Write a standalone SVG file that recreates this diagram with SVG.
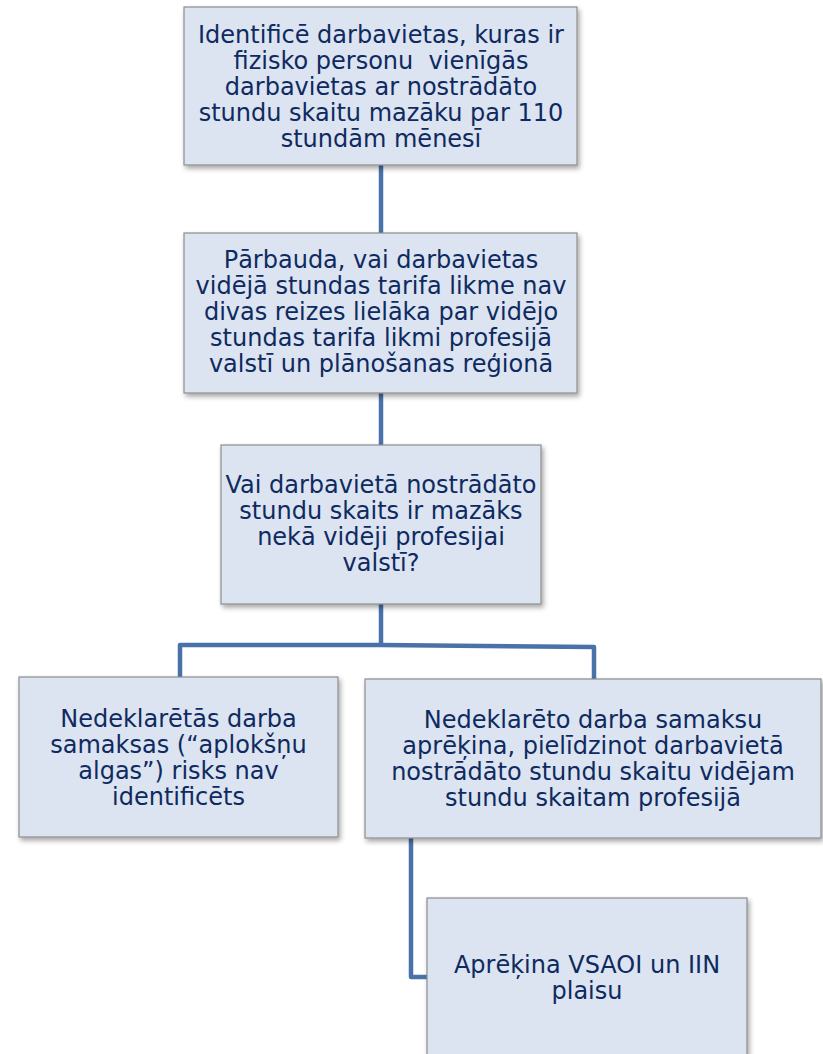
<svg xmlns="http://www.w3.org/2000/svg" width="823" height="1054" viewBox="0 0 823 1054">
<defs>
<filter id="sh" x="-5%" y="-5%" width="115%" height="120%">
<feDropShadow dx="2" dy="3" stdDeviation="2.5" flood-color="#000" flood-opacity="0.35"/>
</filter>
<style>
.box{fill:#dbe4f0;stroke:#8c8c8c;stroke-width:1.2;filter:url(#sh)}
.t{font-family:"DejaVu Sans",Verdana,sans-serif;font-size:24px;fill:#0f2a60;text-anchor:middle;white-space:pre}
.c{fill:none;stroke:#4872a8;stroke-width:4.5;stroke-linejoin:round}
</style>
</defs>
<rect width="823" height="1054" fill="#fff"/>
<g id="connectors">
<path class="c" d="M381 165 V233"/>
<path class="c" d="M381 393 V445"/>
<path class="c" d="M381 604 V645"/>
<path class="c" d="M180 677 V645 H381 L594 647 V679"/>
<path class="c" d="M411 838 V977 H427"/>
</g>
<g id="n1">
<rect class="box" x="184" y="7" width="393" height="158"/>
<text class="t" x="381" y="43">Identificē darbavietas, kuras ir</text>
<text class="t" x="381" y="69" xml:space="preserve">fizisko personu  vienīgās</text>
<text class="t" x="381" y="95">darbavietas ar nostrādāto</text>
<text class="t" x="381" y="121">stundu skaitu mazāku par 110</text>
<text class="t" x="381" y="147">stundām mēnesī</text>
</g>
<g id="n2">
<rect class="box" x="184" y="233" width="393" height="160"/>
<text class="t" x="381" y="268">Pārbauda, vai darbavietas</text>
<text class="t" x="381" y="294">vidējā stundas tarifa likme nav</text>
<text class="t" x="381" y="320">divas reizes lielāka par vidējo</text>
<text class="t" x="381" y="346">stundas tarifa likmi profesijā</text>
<text class="t" x="381" y="372">valstī un plānošanas reģionā</text>
</g>
<g id="n3">
<rect class="box" x="221" y="445" width="320" height="159"/>
<text class="t" x="381" y="493">Vai darbavietā nostrādāto</text>
<text class="t" x="381" y="519">stundu skaits ir mazāks</text>
<text class="t" x="381" y="545">nekā vidēji profesijai</text>
<text class="t" x="381" y="571">valstī?</text>
</g>
<g id="n4">
<rect class="box" x="19" y="677" width="319" height="160"/>
<text class="t" x="178.5" y="727">Nedeklarētās darba</text>
<text class="t" x="178.5" y="753">samaksas (“aplokšņu</text>
<text class="t" x="178.5" y="779">algas”) risks nav</text>
<text class="t" x="178.5" y="805">identificēts</text>
</g>
<g id="n5">
<rect class="box" x="365" y="679" width="456" height="159"/>
<text class="t" x="593" y="728">Nedeklarēto darba samaksu</text>
<text class="t" x="593" y="754">aprēķina, pielīdzinot darbavietā</text>
<text class="t" x="593" y="780">nostrādāto stundu skaitu vidējam</text>
<text class="t" x="593" y="806">stundu skaitam profesijā</text>
</g>
<g id="n6">
<rect class="box" x="427" y="898" width="320" height="170"/>
<text class="t" x="587" y="973">Aprēķina VSAOI un IIN</text>
<text class="t" x="587" y="999">plaisu</text>
</g>
</svg>
